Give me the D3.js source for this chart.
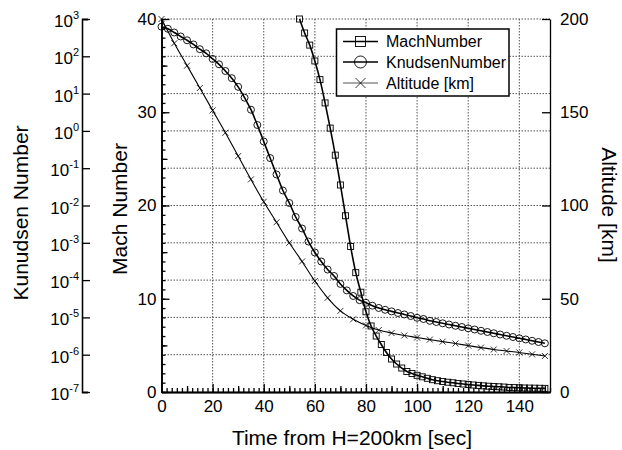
<!DOCTYPE html>
<html>
<head>
<meta charset="utf-8">
<script src="https://d3js.org/d3.v7.min.js"></script>
<style>
  body { margin: 0; background: #fff; }
  svg { font-family: "Liberation Sans", Arial, sans-serif; }
  .axis path, .axis line { stroke: #000; stroke-width: 1.3; }
  .axis text { font-size: 17px; fill: #000; }
  .grid line { stroke: #555; stroke-width: 1; stroke-dasharray: 1.5,1.5; }
</style>
</head>
<body>
<script>
// values
var machTime = [54,56,58,60,62,64,66,68,70,72,74,76,78,80,82,84,86,88,90,92,94,96,98,100,
  102,104,106,108,110,112,114,116,118,120,122,124,126,128,130,132,134,136,138,140,142,144,146,148,150];
var machNumber = [40.0,38.5,37.2,35.5,33.5,31.0,28.3,25.4,22.2,18.9,15.6,12.8,10.7,8.6,7.08,6.0,5.09,4.24,3.54,3.0,
  2.57,2.2,1.98,1.79,1.63,1.47,1.32,1.21,1.13,1.05,0.99,0.92,0.86,0.8,0.75,0.71,0.66,0.62,0.59,0.56,
  0.53,0.49,0.47,0.45,0.43,0.42,0.41,0.4,0.39];

var knTime = [0,2.5,5,7.5,10,12.5,15,17.5,20,22.5,25,27.5,30,32.5,35,37.5,40,42.5,45,47.5,50,52.5,55,57.5,60,
  62.5,65,67.5,70,72.5,75,77.5,80,82.5,85,87.5,90,92.5,95,97.5,100,102.5,105,107.5,110,112.5,115,117.5,120,
  122.5,125,127.5,130,132.5,135,137.5,140,142.5,145,147.5,150];
var knudsenNumber = [622,546,434,340,269,208,155,120,85,61,40.4,25.9,15.2,7.76,3.70,1.44,0.52,0.187,0.0678,0.0252,
  0.0117,4.92e-3,2.42e-3,1.08e-3,5.5e-4,3.15e-4,1.92e-4,1.29e-4,7.9e-5,5.3e-5,3.75e-5,2.9e-5,2.46e-5,2.06e-5,1.79e-5,
  1.6e-5,1.45e-5,1.31e-5,1.2e-5,1.09e-5,9.75e-6,9.06e-6,8.1e-6,7.53e-6,6.95e-6,6.45e-6,5.96e-6,5.53e-6,5.1e-6,4.74e-6,
  4.38e-6,4.06e-6,3.75e-6,3.48e-6,3.21e-6,2.98e-6,2.75e-6,2.56e-6,2.36e-6,2.19e-6,2.02e-6];

var altTime = [0,5,10,15,20,25,30,35,40,45,50,55,60,65,70,75,80,85,90,95,100,105,110,115,120,125,130,135,140,145,150];
var altitudeKm = [200,187,175,163,151,139,126.5,114,102,91,80,70,59.5,50.5,43.5,39,35.7,33.2,31.6,30.3,
  29.2,28.1,27,26,24.9,23.8,22.8,22,21.2,20.2,19.3];

var timeTicks = [0,20,40,60,80,100,120,140];
var machTicks = [0,10,20,30,40];
var altTicks = [0,50,100,150,200];
var knExponents = [3,2,1,0,-1,-2,-3,-4,-5,-6,-7];
var legendNames = ['MachNumber','KnudsenNumber','Altitude [km]'];

var svg = d3.select('body').append('svg')
            .attr('width', 622)
            .attr('height', 450);

var x = d3.scaleLinear().domain([0, 152]).range([161.5, 550]);
var yMach = d3.scaleLinear().domain([0, 40]).range([392, 19]);
var yAlt = d3.scaleLinear().domain([0, 200]).range([392, 19]);
var yKn = d3.scaleLog().domain([1e-7, 1e3]).range([392, 19]);

// dotted grid: vertical every 20 s, horizontal at each Knudsen decade
var grid = svg.append('g').attr('class', 'grid');
grid.selectAll('.gv').data(timeTicks.filter(function(d) { return d > 0; }))
    .enter().append('line')
    .attr('x1', function(d) { return x(d); })
    .attr('x2', function(d) { return x(d); })
    .attr('y1', yMach.range()[1])
    .attr('y2', yMach.range()[0]);
grid.selectAll('.gh').data(knExponents.filter(function(e) { return e > -7; }))
    .enter().append('line')
    .attr('x1', x.range()[0])
    .attr('x2', x.range()[1])
    .attr('y1', function(e) { return yKn(Math.pow(10, e)); })
    .attr('y2', function(e) { return yKn(Math.pow(10, e)); });

// bottom time axis, ticks pointing up
svg.append('g').attr('class', 'axis')
   .attr('transform', 'translate(0,392)')
   .call(d3.axisBottom(x).ticks(76).tickSizeInner(-4).tickSizeOuter(0).tickFormat(''));
svg.append('g').attr('class', 'axis')
   .attr('transform', 'translate(0,392)')
   .call(d3.axisBottom(x).tickValues([10,30,50,70,90,110,130,150]).tickSizeInner(-6).tickSizeOuter(0).tickFormat(''));
svg.append('g').attr('class', 'axis')
   .attr('transform', 'translate(0,392)')
   .call(d3.axisBottom(x).tickValues(timeTicks).tickSizeInner(-8).tickSizeOuter(0).tickPadding(8));

// Mach axis
svg.append('g').attr('class', 'axis')
   .attr('transform', 'translate(161.5,0)')
   .call(d3.axisLeft(yMach).ticks(40).tickSizeInner(-4).tickSizeOuter(0).tickFormat(''));
svg.append('g').attr('class', 'axis')
   .attr('transform', 'translate(161.5,0)')
   .call(d3.axisLeft(yMach).tickValues([5,15,25,35]).tickSizeInner(-6).tickSizeOuter(0).tickFormat(''));
svg.append('g').attr('class', 'axis')
   .attr('transform', 'translate(161.5,0)')
   .call(d3.axisLeft(yMach).tickValues(machTicks).tickSizeInner(-8).tickSizeOuter(0).tickPadding(5));

// Altitude axis on the right
svg.append('g').attr('class', 'axis')
   .attr('transform', 'translate(550,0)')
   .call(d3.axisRight(yAlt).tickValues(altTicks).tickSizeInner(-8).tickSizeOuter(0).tickPadding(10));

// Knudsen log axis, detached on the far left
var minor = yKn.ticks().filter(function(d) {
  return Math.abs(Math.log10(d) - Math.round(Math.log10(d))) > 1e-6;
});
svg.append('g').attr('class', 'axis')
   .attr('transform', 'translate(82,0)')
   .call(d3.axisLeft(yKn).tickValues(minor).tickSizeInner(-4).tickSizeOuter(-6).tickFormat(''));
svg.append('g').attr('class', 'axis')
   .attr('transform', 'translate(82,0)')
   .call(d3.axisLeft(yKn).tickValues(knExponents.map(function(e) { return Math.pow(10, e); }))
          .tickSizeInner(-8).tickSizeOuter(-6).tickFormat(''));

var knLabels = svg.append('g').selectAll('text')
    .data(knExponents).enter().append('text')
    .attr('x', 79)
    .attr('y', function(e) { return yKn(Math.pow(10, e)) + 8; })
    .attr('text-anchor', 'end')
    .style('font-size', '17px');
knLabels.append('tspan').text('10');
knLabels.append('tspan').attr('dy', -8).style('font-size', '11px').text(function(e) { return e; });

// lines
var machPts = d3.zip(machTime, machNumber);
var knPts = d3.zip(knTime, knudsenNumber);
var altPts = d3.zip(altTime, altitudeKm);

function drawLine(pts, yScale, width) {
  svg.append('path')
     .datum(pts)
     .attr('fill', 'none')
     .attr('stroke', '#000')
     .attr('stroke-width', width)
     .attr('d', d3.line()
        .x(function(d) { return x(d[0]); })
        .y(function(d) { return yScale(d[1]); })
        .curve(d3.curveMonotoneX));
}
drawLine(altPts, yAlt, 1.1);
drawLine(knPts, yKn, 1.6);
drawLine(machPts, yMach, 1.6);

// markers
function square(g, cx, cy, s) {
  g.append('rect').attr('x', cx - s / 2).attr('y', cy - s / 2)
   .attr('width', s).attr('height', s)
   .attr('fill', 'none').attr('stroke', '#000').attr('stroke-width', 0.9);
}
function circle(g, cx, cy, r) {
  g.append('circle').attr('cx', cx).attr('cy', cy).attr('r', r)
   .attr('fill', 'none').attr('stroke', '#000').attr('stroke-width', 0.9);
}
function cross(g, cx, cy, s) {
  g.append('path')
   .attr('d', 'M' + (cx - s) + ',' + (cy - s) + 'L' + (cx + s) + ',' + (cy + s) +
              'M' + (cx - s) + ',' + (cy + s) + 'L' + (cx + s) + ',' + (cy - s))
   .attr('stroke', '#000').attr('stroke-width', 0.8);
}

var marks = svg.append('g');
altPts.forEach(function(d) { cross(marks, x(d[0]), yAlt(d[1]), 3); });
knPts.forEach(function(d) { circle(marks, x(d[0]), yKn(d[1]), 3.5); });
machPts.forEach(function(d) { square(marks, x(d[0]), yMach(d[1]), 6); });

// legend
var legend = svg.append('g');
legend.append('rect')
      .attr('x', 336.5).attr('y', 29)
      .attr('width', 172.5).attr('height', 67)
      .attr('fill', '#fff').attr('stroke', '#000').attr('stroke-width', 1.5);
var rowsY = [41.5, 62, 83];
legendNames.forEach(function(name, i) {
  var ry = rowsY[i];
  legend.append('line')
        .attr('x1', 343).attr('x2', 378).attr('y1', ry).attr('y2', ry)
        .attr('stroke', i === 2 ? '#555' : '#000')
        .attr('stroke-width', i === 2 ? 1 : 1.3);
  if (i === 0) square(legend, 360.5, ry, 10);
  if (i === 1) circle(legend, 360.5, ry, 6);
  if (i === 2) cross(legend, 360.5, ry, 5);
  legend.append('text')
        .attr('x', 386).attr('y', ry + 5.5)
        .style('font-size', '16px')
        .text(name);
});

// axis titles
svg.append('text')
   .attr('transform', 'translate(28,213) rotate(-90)')
   .attr('text-anchor', 'middle')
   .style('font-size', '21px')
   .text('Kunudsen Number');
svg.append('text')
   .attr('transform', 'translate(127,209) rotate(-90)')
   .attr('text-anchor', 'middle')
   .style('font-size', '21px')
   .text('Mach Number');
svg.append('text')
   .attr('transform', 'translate(602,205) rotate(90)')
   .attr('text-anchor', 'middle')
   .style('font-size', '21px')
   .text('Altitude [km]');
svg.append('text')
   .attr('x', 352).attr('y', 445)
   .attr('text-anchor', 'middle')
   .style('font-size', '21px')
   .text('Time from H=200km [sec]');
</script>
</body>
</html>
